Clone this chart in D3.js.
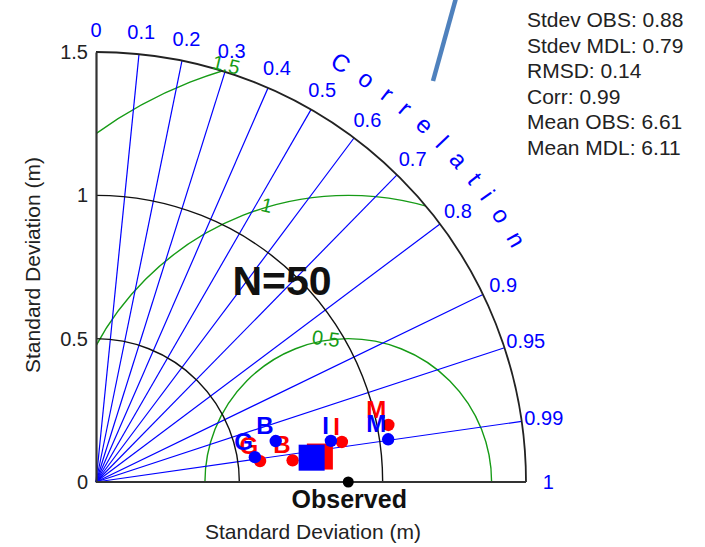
<!DOCTYPE html>
<html>
<head>
<meta charset="utf-8">
<script src="https://cdn.jsdelivr.net/npm/d3@7"></script>
<style>
  html, body { margin: 0; padding: 0; background: #fff; }
  svg { display: block; font-family: "Liberation Sans", Arial, sans-serif; }
</style>
</head>
<body>
<svg id="chart" width="705" height="547"></svg>
<script>
// reference + grid values
const obsStd = 0.88;
const stdTicks = [0, 0.5, 1, 1.5];
const stdArcs = [0.5, 1];
const rmsLevels = [0.5, 1, 1.5];
const corrTicks = [0, 0.1, 0.2, 0.3, 0.4, 0.5, 0.6, 0.7, 0.8, 0.9, 0.95, 0.99, 1];

// model points (blue and red runs), per site
const siteNames = ["G", "B", "I", "M"];
const blueStd = [0.561, 0.643, 0.832, 1.030];
const blueCorr = [0.988, 0.975, 0.985, 0.9895];
const redStd = [0.577, 0.690, 0.869, 1.039];
const redCorr = [0.992, 0.994, 0.987, 0.9815];

// overall (all sites) squares: blue, red
const allStd = [0.757, 0.786];
const allCorr = [0.9937, 0.9936];

const statLines = [
  "Stdev OBS: 0.88",
  "Stdev MDL: 0.79",
  "RMSD: 0.14",
  "Corr: 0.99",
  "Mean OBS: 6.61",
  "Mean MDL: 6.11"
];

const BLUE = "#0000ff";
const RED = "#ff0000";
const GREEN = "#169b16";

const svg = d3.select("#chart");
const ox = 96, oy = 482;
const rMax = 1.5;
const r = d3.scaleLinear().domain([0, rMax]).range([0, 430]);
const y = d3.scaleLinear().domain([0, rMax]).range([oy, oy - r(rMax)]);

function px(s, c) { return ox + r(s) * c; }
function py(s, c) { return oy - r(s) * Math.sqrt(Math.max(0, 1 - c * c)); }

function quarterArc(s) {
  const p = d3.path();
  p.moveTo(ox, oy - r(s));
  p.arc(ox, oy, r(s), -Math.PI / 2, 0, false);
  return p.toString();
}

// clip: the quarter disc of the diagram
const quarter = d3.path();
quarter.moveTo(ox, oy);
quarter.lineTo(ox, oy - r(rMax));
quarter.arc(ox, oy, r(rMax), -Math.PI / 2, 0, false);
quarter.closePath();
svg.append("defs").append("clipPath").attr("id", "qclip")
  .append("path").attr("d", quarter.toString());

// RMSD circles around the observed point
const xObs = px(obsStd, 1);
svg.append("g").attr("clip-path", "url(#qclip)")
  .selectAll("circle").data(rmsLevels).join("circle")
  .attr("cx", xObs).attr("cy", oy)
  .attr("r", (d) => r(d))
  .attr("fill", "none").attr("stroke", GREEN).attr("stroke-width", 1.4);

// correlation rays
svg.append("g").selectAll("line")
  .data(corrTicks.filter((c) => c > 0 && c < 1)).join("line")
  .attr("x1", ox).attr("y1", oy)
  .attr("x2", (c) => px(rMax, c)).attr("y2", (c) => py(rMax, c))
  .attr("stroke", BLUE).attr("stroke-width", 1.2);

// std arcs
svg.append("g").selectAll("path").data(stdArcs).join("path")
  .attr("d", (d) => quarterArc(d))
  .attr("fill", "none").attr("stroke", "#111").attr("stroke-width", 1.4);
svg.append("path").attr("d", quarterArc(rMax))
  .attr("fill", "none").attr("stroke", "#222").attr("stroke-width", 1.8);

// RMSD labels, sitting on each circle
const rmsAngle = [99, 106.5, 106.5];
svg.append("g").selectAll("text").data(rmsLevels).join("text")
  .attr("transform", (d, i) => {
    const a = rmsAngle[i] * Math.PI / 180;
    const tx = xObs + r(d) * Math.cos(a);
    const ty = oy - r(d) * Math.sin(a) - (i === 2 ? 5 : 2);
    return `translate(${tx},${ty}) rotate(${(rmsAngle[i] - 90) * 0.8})`;
  })
  .attr("text-anchor", "middle").attr("dy", "0.35em")
  .attr("fill", GREEN).attr("font-size", 20)
  .text((d) => d);

// axes
const yAxis = d3.axisLeft(y).tickValues(stdTicks).tickSize(0).tickPadding(8)
  .tickFormat((d) => d);
const gy = svg.append("g").attr("transform", `translate(${ox},0)`).call(yAxis);
gy.select(".domain").attr("stroke", "#333").attr("stroke-width", 2.2);
gy.selectAll("text").attr("font-size", 20).attr("fill", "#222")
  .attr("font-family", "Liberation Sans, Arial, sans-serif");

svg.append("line")
  .attr("x1", ox).attr("y1", oy).attr("x2", px(rMax, 1)).attr("y2", oy)
  .attr("stroke", "#333").attr("stroke-width", 2.2);

// correlation tick labels
svg.append("g").selectAll("text").data(corrTicks).join("text")
  .attr("x", (c) => px(1.578, c))
  .attr("y", (c) => py(1.578, c))
  .attr("text-anchor", "middle").attr("dy", "0.36em")
  .attr("fill", BLUE).attr("font-size", 20)
  .text((c) => c);

// "Correlation" along an arc
const titleR = r(1.664);
const a0 = 75 * Math.PI / 180, a1 = 15 * Math.PI / 180;
const tp = d3.path();
tp.moveTo(ox + titleR * Math.cos(a0), oy - titleR * Math.sin(a0));
tp.arc(ox, oy, titleR, -a0, -a1, false);
svg.select("defs").append("path").attr("id", "corrArc").attr("d", tp.toString());
const spacing = 14.5;
const arcLen = titleR * (a0 - a1);
svg.append("text")
  .attr("fill", BLUE).attr("font-size", 24).attr("letter-spacing", spacing)
  .attr("text-anchor", "middle")
  .append("textPath").attr("href", "#corrArc")
  .attr("startOffset", arcLen / 2 + spacing / 2)
  .text("Correlation");

// axis titles
svg.append("text")
  .attr("x", 313).attr("y", 539)
  .attr("text-anchor", "middle").attr("font-size", 21).attr("fill", "#222")
  .text("Standard Deviation (m)");
svg.append("text")
  .attr("transform", "translate(40,265) rotate(-90)")
  .attr("text-anchor", "middle").attr("font-size", 21).attr("fill", "#222")
  .text("Standard Deviation (m)");

// sample size
svg.append("text")
  .attr("x", 282).attr("y", 295)
  .attr("text-anchor", "middle").attr("font-size", 41).attr("font-weight", "bold")
  .attr("fill", "#111")
  .text("N=50");

// observed reference point
svg.append("circle")
  .attr("cx", xObs).attr("cy", oy).attr("r", 5.5).attr("fill", "#000");
svg.append("text")
  .attr("x", xObs + 1).attr("y", 508)
  .attr("text-anchor", "middle").attr("font-size", 25).attr("font-weight", "bold")
  .attr("fill", "#111")
  .text("Observed");

// model runs: red first, blue on top
function drawRun(stds, corrs, sq, color) {
  const g = svg.append("g");
  const s = allStd[sq], c = allCorr[sq];
  g.append("rect")
    .attr("x", px(s, c) - 13).attr("y", py(s, c) - 13)
    .attr("width", 26).attr("height", 26).attr("fill", color);
  const pts = siteNames.map((name, i) => ({ name, x: px(stds[i], corrs[i]), y: py(stds[i], corrs[i]) }));
  g.selectAll("circle").data(pts).join("circle")
    .attr("cx", (d) => d.x).attr("cy", (d) => d.y).attr("r", 6.2).attr("fill", color);
  g.selectAll("text").data(pts).join("text")
    .attr("x", (d) => d.x - 2).attr("y", (d) => d.y - 7)
    .attr("text-anchor", "end").attr("font-size", 24).attr("font-weight", "bold")
    .attr("fill", color)
    .text((d) => d.name);
}
drawRun(redStd, redCorr, 1, RED);
drawRun(blueStd, blueCorr, 0, BLUE);

// stats box
svg.append("g").selectAll("text").data(statLines).join("text")
  .attr("x", 527).attr("y", (d, i) => 27 + i * 25.6)
  .attr("font-size", 21).attr("fill", "#222")
  .text((d) => d);

// pointer line from the slide
svg.append("line")
  .attr("x1", 433).attr("y1", 81).attr("x2", 456).attr("y2", -2)
  .attr("stroke", "#4f81bd").attr("stroke-width", 4.5);
</script>
</body>
</html>
